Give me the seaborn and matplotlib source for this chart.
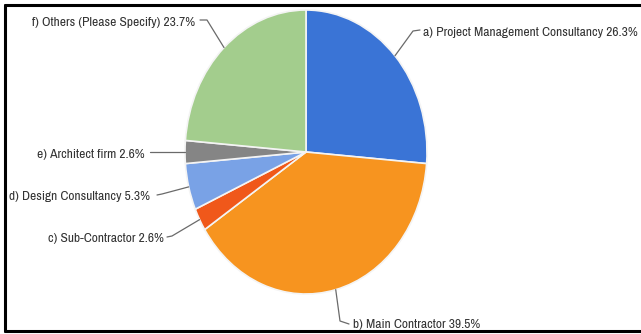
import numpy as np
import matplotlib
matplotlib.use("Agg")
import matplotlib.pyplot as plt
import seaborn as sns
from matplotlib.lines import Line2D
from matplotlib import font_manager

# ---- data ----
categories = ["a) Project Management Consultancy", "b) Main Contractor",
              "c) Sub-Contractor", "d) Design Consultancy",
              "e) Architect firm", "f) Others (Please Specify)"]
shares = [26.3, 39.5, 2.6, 5.3, 2.6, 23.7]
colors = ["#3a74d6", "#f7941f", "#f0581a", "#79a2e6", "#858585", "#a3cd8d"]

sns.set_theme(style="white")

# pick a narrow font if one is installed, else Roboto
family, stretch = "Roboto", "normal"
for f in font_manager.fontManager.ttflist:
    n = f.name
    if "Narrow" in n or ("Condensed" in n and "Mono" not in n):
        family, stretch = n, "normal"
        break
plt.rcParams['font.family'] = [family, 'DejaVu Sans']

W, H = 641, 334
fig = plt.figure(figsize=(W / 100, H / 100), dpi=100)
fig.patch.set_facecolor("white")

# pie ellipse layout (pixels)
cx, cy, rx, ry = 306, 152, 121, 142
ax = fig.add_axes([(cx - rx) / W, (H - cy - ry) / H, 2 * rx / W, 2 * ry / H])
wedges, _ = ax.pie(shares, colors=colors, startangle=90, counterclock=False,
                   radius=1.0, wedgeprops=dict(edgecolor="#f4f4f4", linewidth=1.2))
ax.set_aspect("auto")
ax.set_xlim(-1, 1)
ax.set_ylim(-1, 1)
ax.axis("off")

ov = fig.add_axes([0, 0, 1, 1], zorder=5)
ov.set_xlim(0, W)
ov.set_ylim(H, 0)
ov.axis("off")
ov.patch.set_alpha(0)

# size the font so the longest label spans ~214 px like the reference
renderer = fig.canvas.get_renderer()
probe = ov.text(0, 0, f"{categories[0]} {shares[0]}%", fontsize=10, fontstretch=stretch)
wpx = probe.get_window_extent(renderer).width
probe.remove()
fsize = min(10.0, 10 * 214 / wpx)

# label layout: (elbow x, elbow y, end x, end y, text x, text y, ha)
layout = [
    (413, 31, 420, 30, 423, 33, "left"),
    (340, 321, 349, 324, 353, 325, "left"),
    (172, 236, 167, 237, 164, 239, "right"),
    (162, 194, 157, 195, 150, 197, "right"),
    (170, 152, 150, 152, 145, 154, "right"),
    (207, 20, 200, 20, 195, 22, "right"),
]

to_ov = ov.transData.inverted()
for w, cat, val, (ex, ey, tx_, ty_, lx, ly, ha) in zip(wedges, categories, shares, layout):
    mid = np.deg2rad((w.theta1 + w.theta2) / 2)
    rim = ax.transData.transform((np.cos(mid), np.sin(mid)))
    px, py = to_ov.transform(rim)
    ov.add_line(Line2D([px, ex, tx_], [py, ey, ty_], color="#6a6a6a", lw=0.9))
    ov.text(lx, ly, f"{cat} {val}%", ha=ha, va="center", fontsize=fsize,
            fontstretch=stretch, color="#333333")

# outer border (left, top, bottom)
border = dict(color="black", lw=2.2)
ov.add_line(Line2D([5, 5], [5, 330.5], **border))
ov.add_line(Line2D([5, W], [5, 5], **border))
ov.add_line(Line2D([5, W], [330.5, 330.5], **border))

fig.savefig("out.png", dpi=100, facecolor="white")
